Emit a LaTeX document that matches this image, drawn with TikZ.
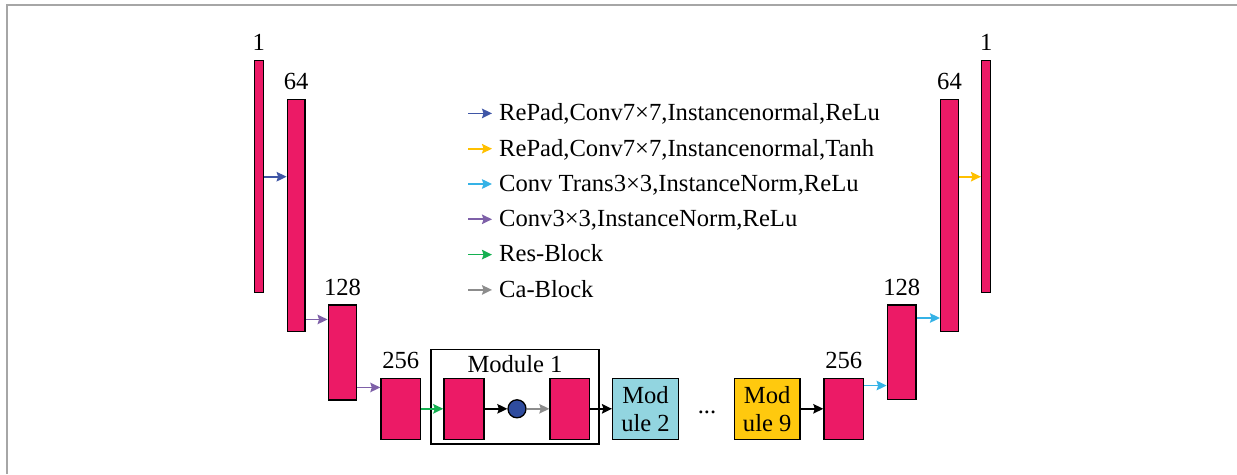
\documentclass[tikz,border=0pt]{standalone}
\usepackage{fontspec}
\setmainfont{Liberation Serif}
\usetikzlibrary{arrows.meta,calc}

\definecolor{barpink}{HTML}{EC1A66}
\definecolor{modcyan}{HTML}{92D5E0}
\definecolor{modgold}{HTML}{FFC90E}
\definecolor{nodeblue}{HTML}{2F4C9E}
\definecolor{cBlue}{HTML}{3F56A6}
\definecolor{cYellow}{HTML}{FFC000}
\definecolor{cCyan}{HTML}{35B2E6}
\definecolor{cPurple}{HTML}{7E60A8}
\definecolor{cGreen}{HTML}{14B050}
\definecolor{cGray}{HTML}{8C8C8C}
\definecolor{frame}{HTML}{A6A6A6}

\begin{document}
\begin{tikzpicture}[x=1pt,y=-1pt,
  txt/.style={font=\fontsize{24.6}{28}\selectfont},
  bar/.style={draw=black, fill=barpink, line width=1.5pt, inner sep=0pt},
  modbox/.style={draw=black, line width=1.5pt, inner sep=0pt, align=center, txt,
                 minimum width=65.6pt, minimum height=61pt},
  lbl/.style={txt, inner sep=0pt, anchor=base},
  legtext/.style={txt, inner sep=0pt, anchor=base west},
  arr/.style={line width=1.7pt, -{Stealth[length=10pt, width=9.5pt, inset=1.5pt]}}]

\useasboundingbox (0,0) rectangle (1237,474);

% outer frame lines
\draw[frame, line width=2pt] (6.5,474) -- (6.5,4.5) -- (1237,4.5);

% encoder feature maps
\node[bar, minimum width=9pt,    minimum height=232pt]  (b1L)   at (258.8,176.7) {};
\node[bar, minimum width=17.7pt, minimum height=232.4pt] (b64L) at (296.2,215.5) {};
\node[bar, minimum width=28.4pt, minimum height=95pt]   (b128L) at (342.5,352.5) {};
\node[bar, minimum width=39.3pt, minimum height=61pt]   (b256L) at (400.7,408.8) {};

% residual module 1
\node[draw=black, line width=1.3pt, inner sep=0pt, minimum width=168pt, minimum height=94.7pt] (mod1) at (515,396.7) {};
\node[lbl] (mod1t) at ([yshift=-23.7pt]mod1.north) {Module 1};
\node[bar, minimum width=40pt,   minimum height=61pt] (mA) at (464,408.8) {};
\node[circle, draw=black, fill=nodeblue, line width=1.3pt, minimum size=18pt, inner sep=0pt] (ca) at (517,408.8) {};
\node[bar, minimum width=39.3pt, minimum height=61pt] (mB) at (569.7,408.8) {};

% further modules
\node[modbox, fill=modcyan] (mod2) at (645.5,408.8) {Mod\\ule 2};
\node[lbl] (dots) at (707,413) {...};
\node[modbox, fill=modgold] (mod9) at (767.2,408.8) {Mod\\ule 9};

% decoder feature maps
\node[bar, minimum width=39.3pt, minimum height=61pt]    (b256R) at (843.7,408.8) {};
\node[bar, minimum width=28.7pt, minimum height=94.3pt]  (b128R) at (901.7,352.2) {};
\node[bar, minimum width=17.6pt, minimum height=232.4pt] (b64R)  at (949.5,215.5) {};
\node[bar, minimum width=9pt,    minimum height=232pt]   (b1R)   at (986.2,176.7) {};

% channel counts
\node[lbl] (t1L)   at ([yshift=9pt]b1L.north)   {1};
\node[lbl] (t64L)  at ([yshift=9pt]b64L.north)  {64};
\node[lbl] (t128L) at ([yshift=9pt]b128L.north) {128};
\node[lbl] (t256L) at ([yshift=9pt]b256L.north) {256};
\node[lbl] (t256R) at ([yshift=9pt]b256R.north) {256};
\node[lbl] (t128R) at ([yshift=9pt]b128R.north) {128};
\node[lbl] (t64R)  at ([yshift=9pt]b64R.north)  {64};
\node[lbl] (t1R)   at ([yshift=9pt]b1R.north)   {1};

% connections
\draw[arr, cBlue] (b1L.east) -- (b1L.east -| b64L.west);
\coordinate (p2) at ([yshift=13pt]b64L.south east);
\draw[arr, cPurple] (p2) -- (p2 -| b128L.west);
\coordinate (p3) at ([yshift=13.3pt]b128L.south east);
\draw[arr, cPurple] (p3) -- (p3 -| b256L.west);
\draw[arr, cGreen] (b256L.east) -- (mA.west);
\draw[arr, black] (mA.east) -- (ca.west);
\draw[arr, cGray] (ca.east) -- (mB.west);
\draw[arr, black] (mB.east) -- (mod2.west);
\draw[arr, black] (mod9.east) -- (b256R.west);
\coordinate (p9) at ([yshift=-8pt]b256R.north east);
\draw[arr, cCyan] (p9) -- (p9 -| b128R.west);
\coordinate (p10) at ([yshift=-13.7pt]b128R.north east);
\draw[arr, cCyan] (p10) -- (p10 -| b64R.west);
\draw[arr, cYellow] (b1R.west -| b64R.east) -- (b1R.west);

% legend
\node[legtext] (l1) at (499,120.7) {RePad,Conv7×7,Instancenormal,ReLu};
\node[legtext] (l2) at (499,156.0) {RePad,Conv7×7,Instancenormal,Tanh};
\node[legtext] (l3) at (499,191.3) {Conv Trans3×3,InstanceNorm,ReLu};
\node[legtext] (l4) at (499,226.6) {Conv3×3,InstanceNorm,ReLu};
\node[legtext] (l5) at (499,261.9) {Res-Block};
\node[legtext] (l6) at (499,297.2) {Ca-Block};
\foreach \n/\c in {l1/cBlue, l2/cYellow, l3/cCyan, l4/cPurple, l5/cGreen, l6/cGray}
  \draw[arr, \c] ([xshift=-31pt,yshift=7.3pt]\n.base west) -- ([xshift=-7pt,yshift=7.3pt]\n.base west);
\end{tikzpicture}
\end{document}
